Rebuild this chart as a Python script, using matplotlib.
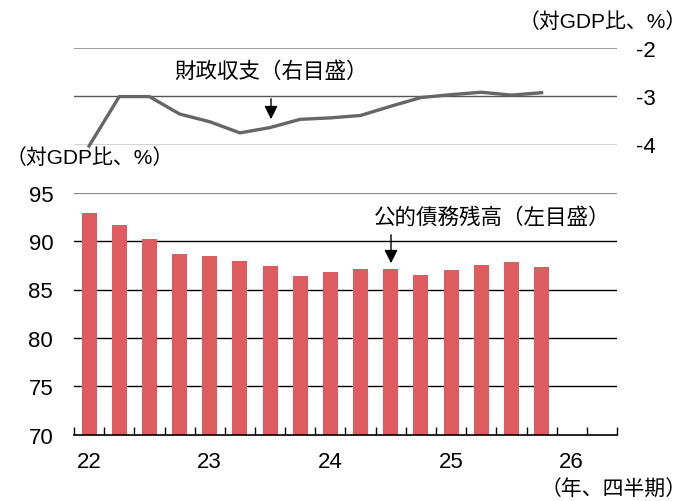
import numpy as np
import matplotlib
matplotlib.use("Agg")
import matplotlib.pyplot as plt

plt.rcParams['font.family'] = ['Liberation Sans', 'Noto Sans CJK JP', 'DejaVu Sans']

# quarterly slots 22Q1 .. 26Q2
n_slots = 18
year_labels = ["22", "23", "24", "25", "26"]
debt = [92.9, 91.7, 90.2, 88.7, 88.45, 87.9, 87.45, 86.35,
        86.8, 87.1, 87.1, 86.45, 87.05, 87.5, 87.85, 87.3]
balance = [-4.03, -3.01, -3.01, -3.37, -3.53, -3.76, -3.65, -3.48,
           -3.45, -3.40, -3.21, -3.03, -2.97, -2.92, -2.98, -2.93]

bar_color = '#DE5B5F'
line_color = '#666666'
fs = 16

fig = plt.figure(figsize=(6.89, 5.02), dpi=100)
W, H = 689, 502

def frac(x0, y0, x1, y1):
    return [x0 / W, 1 - y1 / H, (x1 - x0) / W, (y1 - y0) / H]

arrow = dict(arrowstyle='-|>', color='black', lw=1.0, mutation_scale=20)

# ---- top panel: fiscal balance ----
ax1 = fig.add_axes(frac(74, 48.7, 617, 145.5))
x = np.arange(len(balance))
ax1.set_xlim(-0.5, n_slots - 0.5)
ax1.set_ylim(-4, -2)
ax1.axhline(-2, color='#8a8a8a', lw=1.2, zorder=1)
ax1.axhline(-3, color='#555555', lw=1.0, zorder=1)
ax1.axhline(-4, color='#222222', lw=1.0, zorder=1)
ax1.plot(x, balance, color=line_color, lw=2.4, zorder=3, clip_on=False)
for s in ax1.spines.values():
    s.set_visible(False)
ax1.set_xticks([])
ax1.yaxis.tick_right()
ax1.set_yticks([-2, -3, -4])
ax1.set_yticklabels(["-2", "-3", "-4"])
ax1.tick_params(axis='y', length=0, pad=14, labelsize=fs)
for lab in ax1.get_yticklabels():
    lab.set_horizontalalignment('left')
ax1.patch.set_alpha(0)

fig.text(687 / W, 1 - 22 / H, "（対GDP比、%）", ha='right', va='center', fontsize=15)
fig.text(271 / W, 1 - 72 / H, "財政収支（右目盛）", ha='center', va='center', fontsize=15.5)
ax1.annotate("", xy=(271 / W, 1 - 123 / H), xytext=(271 / W, 1 - 97 / H),
             xycoords='figure fraction', textcoords='figure fraction',
             arrowprops=arrow)

# ---- bottom panel: public debt ----
ax2 = fig.add_axes(frac(74, 193.7, 617, 435.7))
xb = np.arange(len(debt))
ax2.set_xlim(-0.5, n_slots - 0.5)
ax2.set_ylim(70, 95)
ax2.axhline(95, color='#8a8a8a', lw=1.6, zorder=0)
for v in [90, 85, 80, 75]:
    ax2.axhline(v, color='black', lw=1.0, zorder=0)
ax2.bar(xb, np.array(debt) - 70, bottom=70, width=0.5, color=bar_color, zorder=2)
for side in ['top', 'right', 'left']:
    ax2.spines[side].set_visible(False)
ax2.spines['bottom'].set_linewidth(1.2)
ax2.set_yticks([70, 75, 80, 85, 90, 95])
ax2.tick_params(axis='y', length=0, pad=15, labelsize=fs)
ax2.set_xticks(np.arange(n_slots + 1) - 0.5)
ax2.set_xticklabels([])
ax2.tick_params(axis='x', which='major', direction='in', length=6, width=1.0)
ax2.set_xticks(np.arange(0, n_slots, 4), minor=True)
ax2.set_xticklabels(year_labels, minor=True)
ax2.tick_params(axis='x', which='minor', length=0, pad=12, labelsize=fs)

fig.text(6 / W, 1 - 158 / H, "（対GDP比、%）", ha='left', va='center', fontsize=15)
fig.text(492 / W, 1 - 218 / H, "公的債務残高（左目盛）", ha='center', va='center', fontsize=15.5)
ax2.annotate("", xy=(391 / W, 1 - 267 / H), xytext=(391 / W, 1 - 233 / H),
             xycoords='figure fraction', textcoords='figure fraction',
             arrowprops=arrow)
fig.text(687 / W, 1 - 490 / H, "（年、四半期）", ha='right', va='center', fontsize=15)

fig.savefig("out.png", dpi=100)
